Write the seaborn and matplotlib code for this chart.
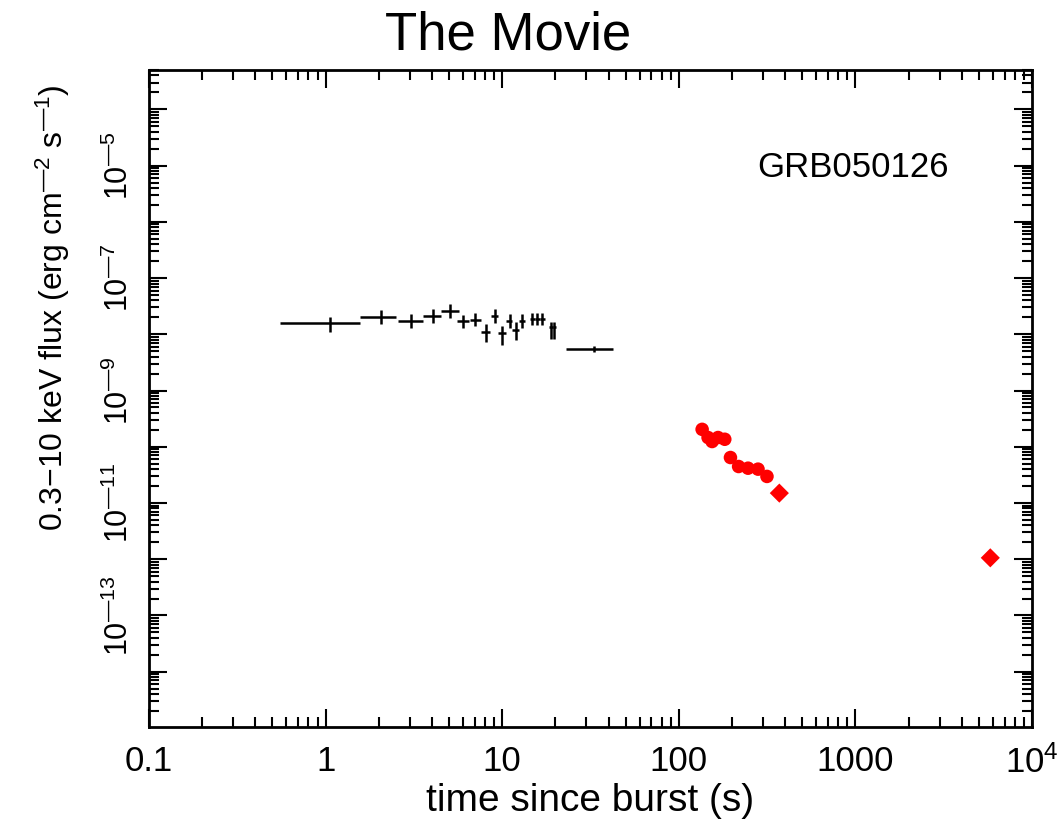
import numpy as np
import pandas as pd
import matplotlib
matplotlib.use("Agg")
import matplotlib.pyplot as plt
import matplotlib.ticker as mticker
import seaborn as sns

# early BAT-extrapolated light curve (black crosses)
bat_time = [1.06, 2.07, 3.05, 4.07, 5.06, 6.03, 7.03, 8.09, 9.12, 9.96, 11.0, 11.9, 13.0, 14.8, 15.8, 16.9, 18.8, 19.7, 33.1]
bat_tlo = [0.555, 1.56, 2.56, 3.55, 4.5, 5.52, 6.56, 7.6, 8.6, 9.5, 10.5, 11.4, 12.5, 14.3, 15.3, 16.4, 18.3, 19.3, 22.9]
bat_thi = [1.57, 2.5, 3.54, 4.51, 5.66, 6.52, 7.58, 8.5, 9.5, 10.5, 11.4, 12.5, 13.5, 15.3, 16.4, 17.4, 19.3, 20.2, 42.4]
bat_flux = [1.58e-8, 2.07e-8, 1.75e-8, 2.10e-8, 2.57e-8, 1.71e-8, 1.83e-8, 1.10e-8, 2.15e-8, 1.07e-8,
            1.71e-8, 1.17e-8, 1.75e-8, 1.88e-8, 1.88e-8, 1.88e-8, 1.34e-8, 1.34e-8, 5.53e-9]
bat_flo = [1.11e-8, 1.53e-8, 1.32e-8, 1.58e-8, 1.93e-8, 1.29e-8, 1.38e-8, 7.3e-9, 1.62e-8, 6.4e-9,
           1.29e-8, 7.8e-9, 1.32e-8, 1.45e-8, 1.45e-8, 1.45e-8, 8.2e-9, 8.2e-9, 4.9e-9]
bat_fhi = [2.04e-8, 2.65e-8, 2.33e-8, 2.79e-8, 3.42e-8, 2.2e-8, 2.43e-8, 1.53e-8, 2.86e-8, 1.42e-8,
           2.27e-8, 1.64e-8, 2.33e-8, 2.4e-8, 2.4e-8, 2.4e-8, 1.65e-8, 1.65e-8, 6.3e-9]

# XRT points (red)
xrt_time = [135.5, 146.4, 154.3, 166.7, 182.0, 196.0, 218.0, 246.5, 280.8, 315.5, 370.7, 5800.0]
xrt_flux = [2.04e-10, 1.46e-10, 1.24e-10, 1.46e-10, 1.36e-10, 6.44e-11, 4.46e-11, 4.16e-11, 4.0e-11, 2.97e-11, 1.50e-11, 1.06e-12]
xrt_flo = [1.8e-10, 1.3e-10, 1.1e-10, 1.3e-10, 1.2e-10, 5.7e-11, 3.9e-11, 3.7e-11, 3.5e-11, 2.6e-11, 1.1e-11, 0.95e-12]
xrt_fhi = [2.3e-10, 1.65e-10, 1.4e-10, 1.65e-10, 1.55e-10, 7.3e-11, 5.1e-11, 4.7e-11, 4.5e-11, 3.4e-11, 2.05e-11, 1.18e-12]
xrt_shape = ["o", "o", "o", "o", "o", "o", "o", "o", "o", "o", "D", "D"]

xticks = [0.1, 1, 10, 100, 1000, 1e4]
xticklabels = ["0.1", "1", "10", "100", "1000", "$10^4$"]

sns.set_style("ticks")
plt.rcParams["font.family"] = ["Liberation Sans", "DejaVu Sans"]
plt.rcParams["mathtext.fontset"] = "custom"
plt.rcParams["mathtext.rm"] = "Liberation Sans"
plt.rcParams["mathtext.it"] = "Liberation Sans"
plt.rcParams["mathtext.default"] = "regular"
for k in ["text.color", "axes.labelcolor", "xtick.color", "ytick.color", "axes.edgecolor"]:
    plt.rcParams[k] = "black"

fig, ax = plt.subplots(figsize=(10.64, 8.24), dpi=100)
fig.subplots_adjust(left=0.140, right=0.970, top=0.915, bottom=0.118)

bt = np.array(bat_time)
bf = np.array(bat_flux)
ax.errorbar(bt, bf,
            xerr=[bt - np.array(bat_tlo), np.array(bat_thi) - bt],
            yerr=[bf - np.array(bat_flo), np.array(bat_fhi) - bf],
            fmt="none", ecolor="black", elinewidth=1.8, capsize=0)

xt = np.array(xrt_time)
xf = np.array(xrt_flux)
ax.errorbar(xt, xf, yerr=[xf - np.array(xrt_flo), np.array(xrt_fhi) - xf],
            fmt="none", ecolor="red", elinewidth=1.6, capsize=0)

red = pd.DataFrame({"time": xrt_time, "flux": xrt_flux, "shape": xrt_shape})
sns.scatterplot(data=red, x="time", y="flux", style="shape", markers={"o": "o", "D": "D"},
                color="red", edgecolor="red", s=95, linewidth=0, legend=False, ax=ax, zorder=3)

ax.set_xscale("log")
ax.set_yscale("log")
ax.set_xlim(0.1, 1e4)
ax.set_ylim(1.05e-15, 5e-4)

ax.set_xticks(xticks)
ax.set_xticklabels(xticklabels)
ax.xaxis.set_minor_locator(mticker.LogLocator(base=10, subs=np.arange(2, 10), numticks=50))
ax.xaxis.set_minor_formatter(mticker.NullFormatter())

ax.yaxis.set_major_locator(mticker.LogLocator(base=10, numticks=30))
ax.yaxis.set_minor_locator(mticker.LogLocator(base=10, subs=np.arange(2, 10), numticks=100))
ax.yaxis.set_minor_formatter(mticker.NullFormatter())


def ylab(v, pos):
    e = int(round(np.log10(v)))
    if e % 2 == 0 or e < -14:
        return ""
    return "$10^{\u2014%d}$" % abs(e)


ax.yaxis.set_major_formatter(mticker.FuncFormatter(ylab))

ax.tick_params(which="both", direction="in", top=True, right=True, width=1.5)
ax.tick_params(which="major", length=13)
ax.tick_params(which="minor", length=7)
ax.tick_params(axis="x", which="major", labelsize=25, pad=13)
ax.tick_params(axis="y", which="major", labelsize=22, pad=10, labelrotation=90)
for lab in ax.get_yticklabels():
    lab.set_va("center")
for sp in ax.spines.values():
    sp.set_linewidth(2.0)

ax.set_xlabel("time since burst (s)", fontsize=28, labelpad=3)
ax.set_ylabel("0.3\u221210 keV flux (erg cm$^{\u20142}$ s$^{\u20141}$)", fontsize=23)
ax.yaxis.set_label_coords(-0.087, 0.638)
ax.text(0.689, 0.837, "GRB050126", transform=ax.transAxes, fontsize=25, va="baseline", ha="left")
fig.text(0.478, 1 - 50 / 824, "The Movie", fontsize=38, ha="center", va="baseline")

fig.savefig("out.png", dpi=100)
